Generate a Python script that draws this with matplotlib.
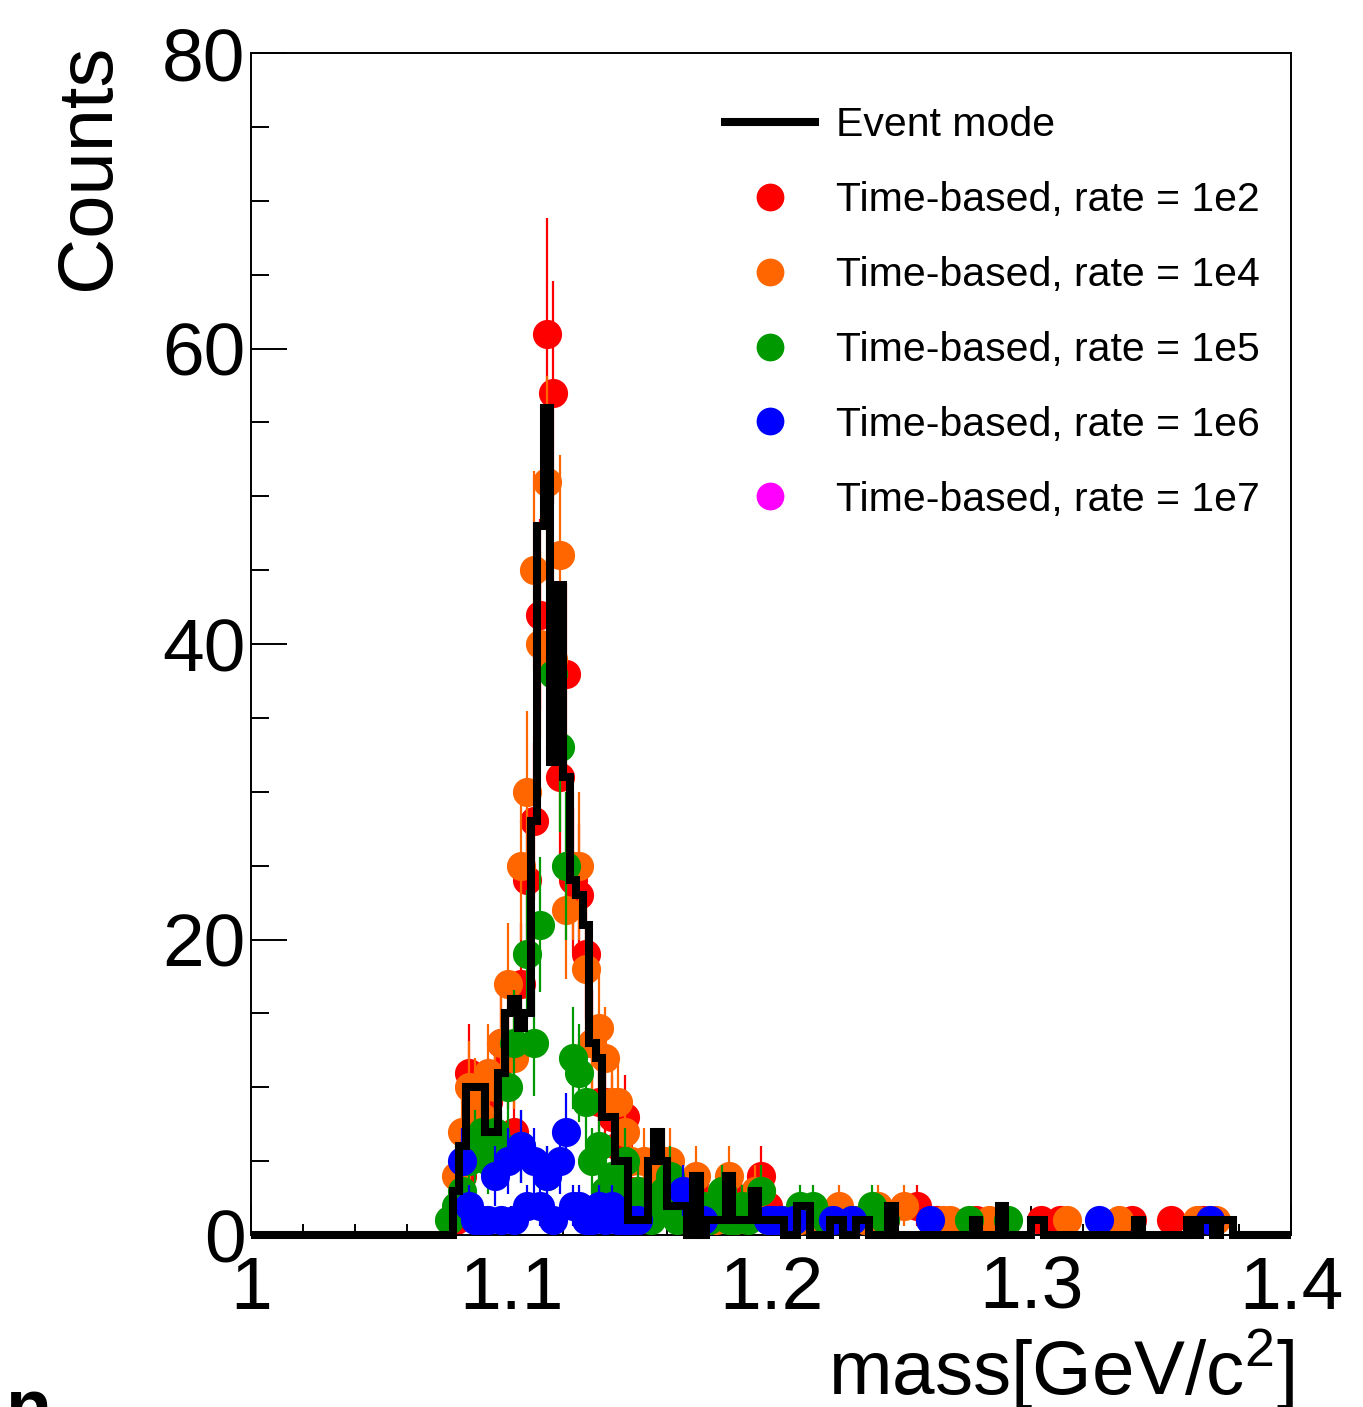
import numpy as np
import matplotlib.pyplot as plt
from matplotlib.lines import Line2D

plt.rcParams['font.family'] = ['Liberation Sans', 'DejaVu Sans']
plt.rcParams['mathtext.fontset'] = 'custom'
plt.rcParams['mathtext.rm'] = 'Liberation Sans'
plt.rcParams['mathtext.it'] = 'Liberation Sans:italic'

# binning: 160 bins of 2.5 MeV from 1.0 to 1.4 GeV/c^2
mass_min = 1.0
mass_max = 1.4
n_bins = 160
first_bin = 30  # the count lists below start with the bin at 1.075

event_mode = [0, 3, 6, 10, 10, 10, 7, 7, 11, 15,
              16, 14, 15, 28, 48, 56, 32, 44, 31, 24,
              23, 21, 13, 12, 8, 8, 5, 5, 1, 1,
              1, 5, 7, 5, 2, 2, 2, 0, 4, 0,
              1, 1, 1, 4, 1, 1, 1, 3, 1, 1,
              1, 1, 0, 0, 2, 2, 0, 0, 0, 1,
              1, 0, 0, 1, 1, 0, 0, 0, 2, 0,
              0, 0, 0, 0, 0, 0, 0, 0, 0, 0,
              0, 1, 0, 0, 0, 2, 0, 0, 0, 0,
              1, 1, 0, 0, 0, 0, 0, 0, 0, 0,
              0, 0, 0, 0, 0, 0, 1, 0, 0, 0,
              0, 0, 0, 0, 1, 0, 1, 1, 0, 1,
              1, 0]

rate_1e2 = [0, 1, 4, 11, 8, 7, 9, 10, 13, 12,
            7, 17, 24, 28, 42, 61, 57, 31, 38, 24,
            23, 19, 13, 9, 9, 8, 6, 8, 3, 1,
            1, 3, 5, 4, 2, 2, 1, 2, 3, 0,
            1, 2, 0, 3, 1, 2, 0, 2, 4, 2,
            1, 0, 0, 0, 1, 1, 0, 0, 0, 1,
            0, 0, 0, 1, 0, 0, 0, 1, 0, 0,
            0, 0, 2, 0, 0, 1, 0, 0, 0, 0,
            0, 1, 0, 0, 0, 0, 0, 0, 0, 0,
            0, 1, 0, 0, 1, 0, 0, 0, 0, 0,
            0, 0, 0, 0, 0, 1, 0, 0, 0, 0,
            0, 1, 0, 0, 0, 0, 1, 0, 0, 0,
            0, 0]

rate_1e4 = [0, 4, 7, 10, 9, 8, 11, 10, 13, 17,
            12, 25, 30, 45, 40, 51, 39, 46, 22, 25,
            25, 18, 13, 14, 12, 9, 9, 7, 5, 3,
            5, 3, 4, 5, 5, 2, 3, 2, 4, 1,
            2, 1, 2, 4, 1, 2, 2, 3, 3, 1,
            1, 0, 1, 0, 1, 0, 1, 1, 0, 0,
            2, 0, 1, 0, 1, 1, 2, 0, 0, 0,
            2, 0, 0, 0, 0, 0, 1, 1, 0, 0,
            0, 0, 0, 1, 0, 0, 0, 0, 0, 0,
            0, 0, 0, 0, 0, 1, 0, 0, 0, 0,
            0, 0, 0, 1, 0, 0, 0, 0, 0, 0,
            0, 0, 0, 0, 0, 1, 0, 0, 1, 0,
            0, 0]

rate_1e5 = [1, 2, 3, 5, 6, 7, 5, 7, 6, 10,
            13, 6, 19, 13, 21, 4, 38, 33, 25, 12,
            11, 9, 5, 6, 3, 4, 3, 5, 2, 3,
            2, 1, 2, 3, 4, 1, 2, 1, 1, 2,
            1, 2, 3, 1, 1, 2, 1, 0, 3, 1,
            0, 1, 0, 1, 2, 0, 2, 0, 1, 0,
            0, 0, 1, 0, 0, 2, 0, 1, 0, 0,
            0, 0, 0, 0, 0, 0, 0, 0, 0, 0,
            1, 0, 0, 0, 0, 0, 1, 0, 0, 0,
            0, 0, 0, 0, 0, 0, 0, 0, 0, 0,
            0, 0, 0, 0, 0, 0, 0, 0, 0, 0,
            0, 0, 0, 0, 0, 0, 0, 0, 0, 0,
            0, 0]

rate_1e6 = [0, 0, 5, 2, 1, 1, 1, 4, 1, 5,
            1, 6, 2, 5, 2, 4, 1, 5, 7, 2,
            2, 1, 1, 2, 1, 2, 1, 1, 1, 1,
            0, 0, 0, 0, 0, 0, 3, 0, 0, 1,
            0, 0, 0, 0, 0, 0, 0, 0, 0, 1,
            1, 1, 0, 1, 0, 0, 0, 0, 0, 1,
            0, 0, 1, 0, 0, 0, 0, 0, 0, 0,
            0, 0, 0, 0, 1, 0, 0, 0, 0, 0,
            0, 0, 0, 0, 0, 0, 0, 0, 0, 0,
            0, 0, 0, 0, 0, 0, 0, 0, 0, 0,
            1, 0, 0, 0, 0, 0, 0, 0, 0, 0,
            0, 0, 0, 0, 0, 0, 0, 1, 0, 0,
            0, 0]

rate_1e7 = []  # no entries survive at this rate

series = [
    (rate_1e2, '#ff0000', 'Time-based, rate = 1e2'),
    (rate_1e4, '#ff6600', 'Time-based, rate = 1e4'),
    (rate_1e5, '#009900', 'Time-based, rate = 1e5'),
    (rate_1e6, '#0000ff', 'Time-based, rate = 1e6'),
    (rate_1e7, '#ff00ff', 'Time-based, rate = 1e7'),
]

edges = np.linspace(mass_min, mass_max, n_bins + 1)
centers = 0.5 * (edges[:-1] + edges[1:])


def full_hist(counts):
    h = np.zeros(n_bins)
    h[first_bin:first_bin + len(counts)] = counts
    return h


fig = plt.figure(figsize=(13.63, 14.07), dpi=100)
ax = fig.add_axes([0.1842, 0.1222, 0.7630, 0.8401])

z = 2
for counts, color, label in series:
    h = full_hist(counts)
    m = h > 0
    ax.errorbar(centers[m], h[m], yerr=np.sqrt(h[m]), fmt='o', ms=21,
                color=color, ecolor=color, elinewidth=1.6, capsize=0,
                markeredgewidth=0, zorder=z)
    z += 1

ax.stairs(full_hist(event_mode), edges, color='black', lw=5.8,
          zorder=10, clip_on=False)

ax.set_xlim(mass_min, mass_max)
ax.set_ylim(0, 80)

ax.set_xticks([1.0, 1.1, 1.2, 1.3, 1.4])
ax.set_xticklabels(['1', '1.1', '1.2', '1.3', '1.4'])
ax.set_xticks(np.arange(1.0, 1.4001, 0.02), minor=True)
ax.set_yticks([0, 20, 40, 60, 80])
ax.set_yticks(np.arange(0, 81, 5), minor=True)

ax.tick_params(which='both', direction='in', top=False, right=False,
               width=1.4, labelsize=54)
ax.tick_params(axis='x', which='major', length=21, pad=14)
ax.tick_params(axis='x', which='minor', length=8)
ax.tick_params(axis='y', which='major', length=26, pad=4)
ax.tick_params(axis='y', which='minor', length=13)
for sp in ax.spines.values():
    sp.set_linewidth(1.4)

ax.set_ylabel('Counts', fontsize=56, loc='top')
ax.yaxis.set_label_coords(-0.121, 1.008)
ax.set_xlabel('mass[GeV/c$^{2}$]', fontsize=55, loc='right')
ax.xaxis.set_label_coords(1.003, -0.078)

handles = [Line2D([], [], color='black', lw=5.8)]
labels = ['Event mode']
for counts, color, label in series:
    handles.append(Line2D([], [], marker='o', ls='none', color=color,
                          ms=20, markeredgewidth=0))
    labels.append(label)
ax.legend(handles, labels, loc='upper left', bbox_to_anchor=(0.456, 0.955),
          frameon=False, fontsize=29.5, handlelength=2.2, handletextpad=0.5,
          labelspacing=0.9, borderaxespad=0, borderpad=0)

# panel letter, cut by the bottom edge of the image
fig.text(0.004, -0.017, 'n', fontsize=54, fontweight='bold', ha='left',
         va='baseline')

fig.savefig('out.png', dpi=100)
